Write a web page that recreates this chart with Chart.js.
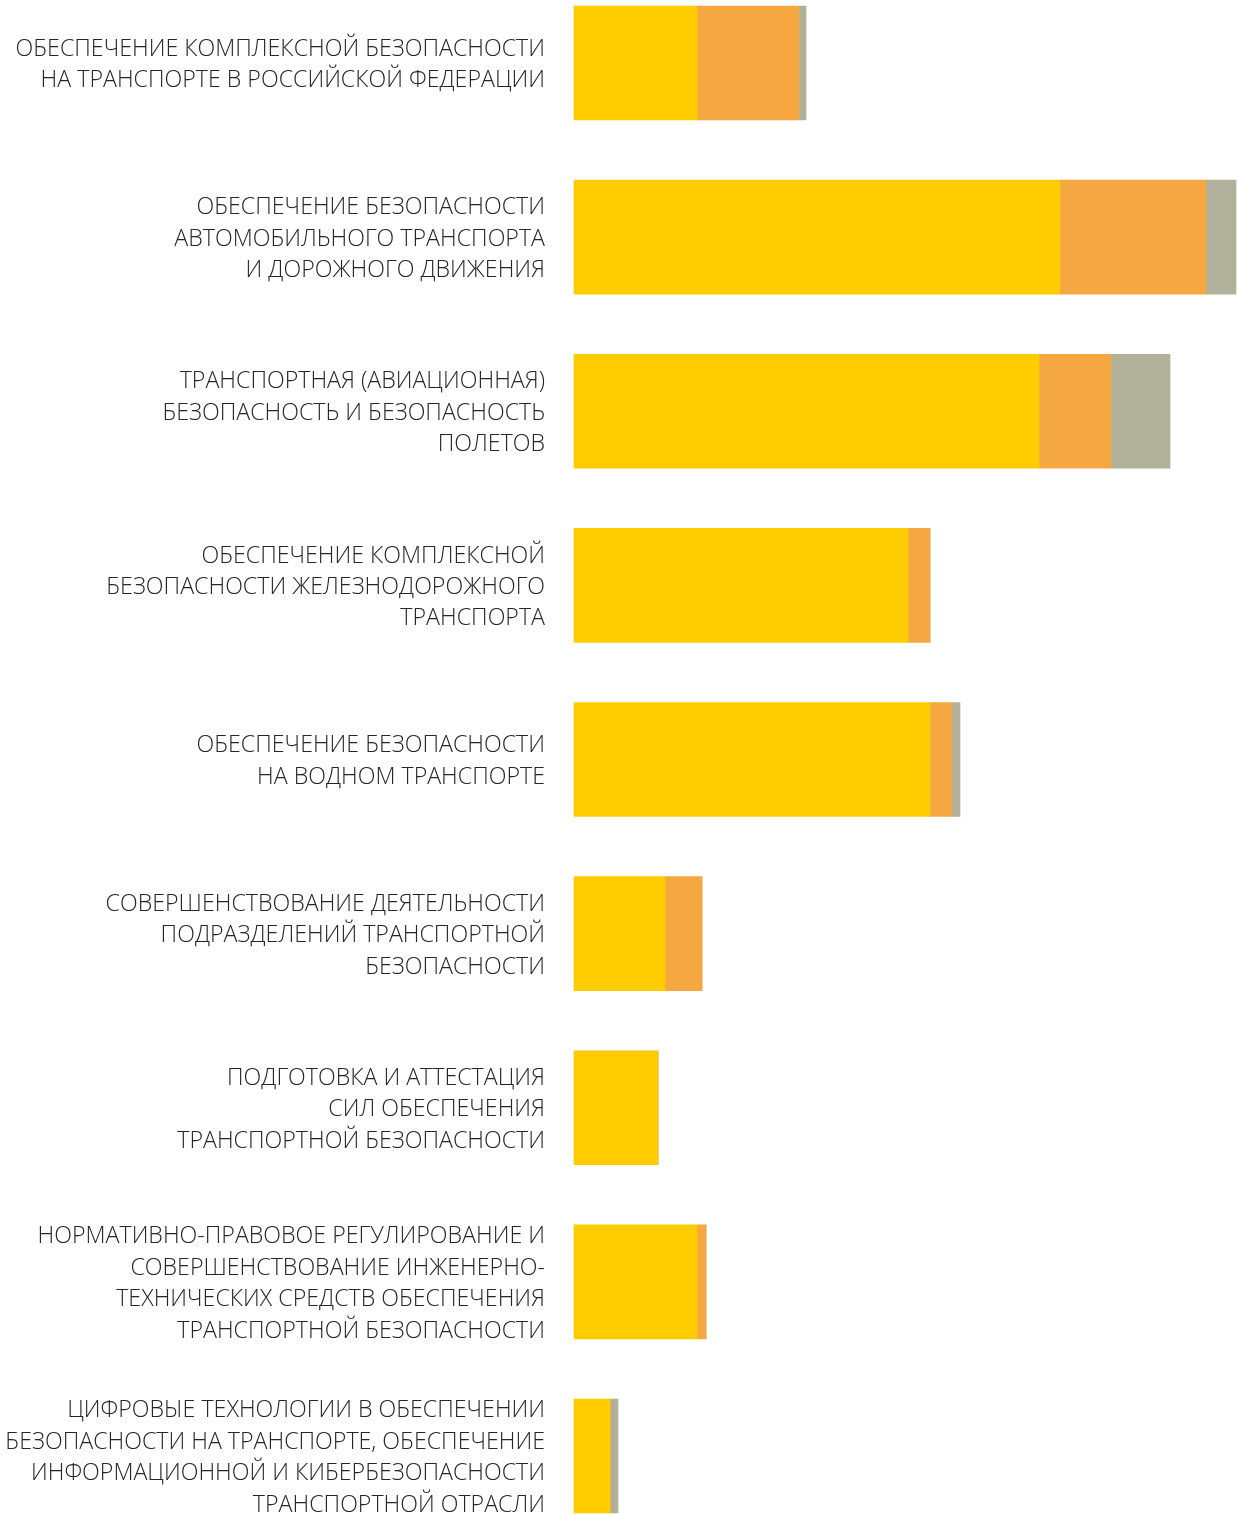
<!DOCTYPE html>
<html>
<head>
<meta charset="utf-8">
<script src="https://cdn.jsdelivr.net/npm/chart.js@4"></script>
<style>
html,body{margin:0;padding:0;background:#fff;}
#wrap{width:1238px;height:1514px;}
</style>
</head>
<body>
<div id="wrap"><canvas id="c" width="1238" height="1514"></canvas></div>
<script>
const categories = [
  ["ОБЕСПЕЧЕНИЕ КОМПЛЕКСНОЙ БЕЗОПАСНОСТИ", "НА ТРАНСПОРТЕ В РОССИЙСКОЙ ФЕДЕРАЦИИ"],
  ["ОБЕСПЕЧЕНИЕ БЕЗОПАСНОСТИ", "АВТОМОБИЛЬНОГО ТРАНСПОРТА", "И ДОРОЖНОГО ДВИЖЕНИЯ"],
  ["ТРАНСПОРТНАЯ (АВИАЦИОННАЯ)", "БЕЗОПАСНОСТЬ И БЕЗОПАСНОСТЬ", "ПОЛЕТОВ"],
  ["ОБЕСПЕЧЕНИЕ КОМПЛЕКСНОЙ", "БЕЗОПАСНОСТИ ЖЕЛЕЗНОДОРОЖНОГО", "ТРАНСПОРТА"],
  ["ОБЕСПЕЧЕНИЕ БЕЗОПАСНОСТИ", "НА ВОДНОМ ТРАНСПОРТЕ"],
  ["СОВЕРШЕНСТВОВАНИЕ ДЕЯТЕЛЬНОСТИ", "ПОДРАЗДЕЛЕНИЙ ТРАНСПОРТНОЙ", "БЕЗОПАСНОСТИ"],
  ["ПОДГОТОВКА И АТТЕСТАЦИЯ", "СИЛ ОБЕСПЕЧЕНИЯ", "ТРАНСПОРТНОЙ БЕЗОПАСНОСТИ"],
  ["НОРМАТИВНО-ПРАВОВОЕ РЕГУЛИРОВАНИЕ И", "СОВЕРШЕНСТВОВАНИЕ ИНЖЕНЕРНО-", "ТЕХНИЧЕСКИХ СРЕДСТВ ОБЕСПЕЧЕНИЯ", "ТРАНСПОРТНОЙ БЕЗОПАСНОСТИ"],
  ["ЦИФРОВЫЕ ТЕХНОЛОГИИ В ОБЕСПЕЧЕНИИ", "БЕЗОПАСНОСТИ НА ТРАНСПОРТЕ, ОБЕСПЕЧЕНИЕ", "ИНФОРМАЦИОННОЙ И КИБЕРБЕЗОПАСНОСТИ", "ТРАНСПОРТНОЙ ОТРАСЛИ"]
];
const seriesYellow = [123, 486, 465, 334, 356, 91, 84, 123, 36];
const seriesOrange = [102, 146, 72, 22, 22, 37, 0, 9, 0];
const seriesGrey   = [7, 30, 59, 0, 8, 0, 0, 0, 8];
const xMax = 662;

const ds = (data, color) => ({
  data: data,
  backgroundColor: color,
  borderWidth: 0,
  barThickness: 114,
  clip: false
});

new Chart(document.getElementById('c'), {
  type: 'bar',
  data: {
    labels: categories,
    datasets: [
      ds(seriesYellow, '#FFCC00'),
      ds(seriesOrange, '#F5A841'),
      ds(seriesGrey, '#B1B09A')
    ]
  },
  options: {
    indexAxis: 'y',
    responsive: false,
    animation: false,
    layout: { padding: { top: 63, bottom: 58, left: 0, right: 2 } },
    plugins: { legend: { display: false }, tooltip: { enabled: false } },
    scales: {
      x: {
        stacked: true,
        min: 0,
        max: xMax,
        display: false
      },
      y: {
        stacked: true,
        offset: false,
        grid: { display: false, drawTicks: false },
        border: { display: false },
        ticks: {
          padding: 29,
          labelOffset: 2,
          color: '#262626',
          font: { family: 'Open Sans', weight: '300', size: 23.2, lineHeight: 1.355 }
        },
        afterFit: (scale) => { scale.width = 574; scale.paddingTop = 0; scale.paddingBottom = 0; }
      }
    }
  }
});
</script>
</body>
</html>
